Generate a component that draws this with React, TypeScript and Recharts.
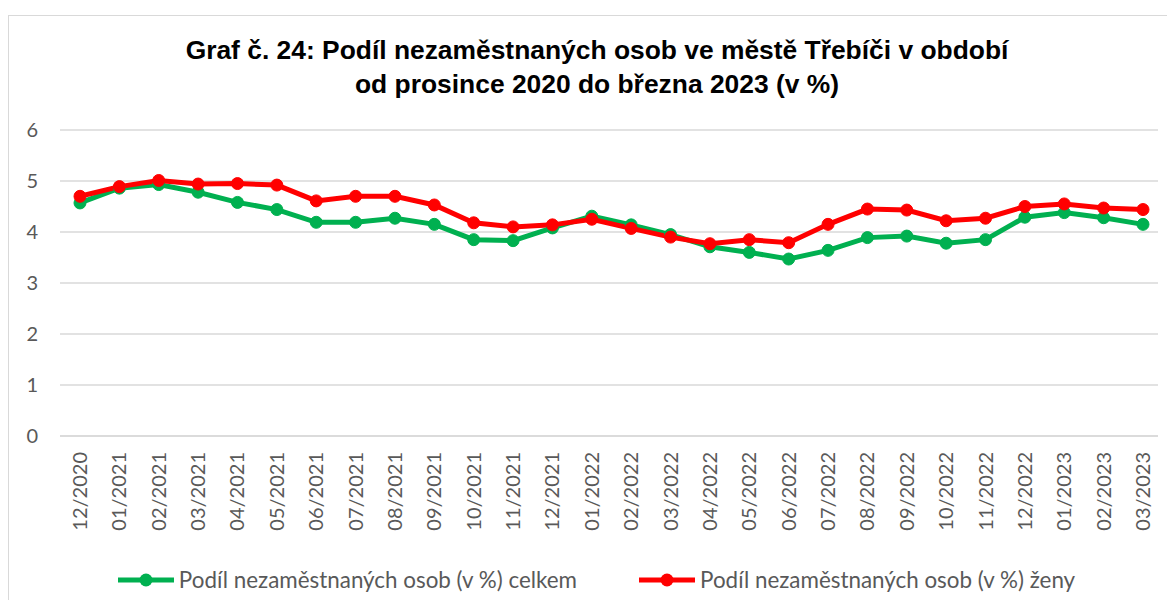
import React from 'react';
import { LineChart, Line, XAxis, YAxis, CartesianGrid, Legend } from 'recharts';

const months = [
  '12/2020', '01/2021', '02/2021', '03/2021', '04/2021', '05/2021', '06/2021', '07/2021',
  '08/2021', '09/2021', '10/2021', '11/2021', '12/2021', '01/2022', '02/2022', '03/2022',
  '04/2022', '05/2022', '06/2022', '07/2022', '08/2022', '09/2022', '10/2022', '11/2022',
  '12/2022', '01/2023', '02/2023', '03/2023',
];
const celkem = [
  4.57, 4.86, 4.93, 4.78, 4.58, 4.44, 4.19, 4.19, 4.27, 4.15, 3.85, 3.83, 4.08, 4.31,
  4.14, 3.95, 3.71, 3.60, 3.47, 3.64, 3.89, 3.92, 3.78, 3.85, 4.29, 4.38, 4.28, 4.15,
];
const zeny = [
  4.70, 4.89, 5.01, 4.94, 4.95, 4.92, 4.61, 4.70, 4.70, 4.53, 4.18, 4.10, 4.14, 4.25,
  4.07, 3.90, 3.77, 3.85, 3.79, 4.15, 4.45, 4.43, 4.22, 4.27, 4.50, 4.55, 4.47, 4.44,
];
const yTicks = [0, 1, 2, 3, 4, 5, 6];
const seriesNames = {
  celkem: 'Podíl nezaměstnaných osob (v %) celkem',
  zeny: 'Podíl nezaměstnaných osob (v %) ženy',
};
const titleLines = [
  'Graf č. 24: Podíl nezaměstnaných osob ve městě Třebíči v období',
  'od prosince 2020 do března 2023 (v %)',
];

const data = months.map((m, i) => ({ month: m, celkem: celkem[i], zeny: zeny[i] }));

const GREEN = '#00B050';
const RED = '#FF0000';
const GRID = '#d9d9d9';
const TEXT = '#595959';
const FONT = 'Lato, "Open Sans", sans-serif';

const XTick = (props: any) => {
  const { x, y, payload } = props;
  return (
    <text
      x={x}
      y={y}
      transform={`rotate(-90, ${x}, ${y})`}
      textAnchor="end"
      dy="0.35em"
      fill={TEXT}
      fontSize={20}
      fontFamily={FONT}
    >
      {payload.value}
    </text>
  );
};

const LegendContent = () => {
  const items = [
    { name: seriesNames.celkem, color: GREEN },
    { name: seriesNames.zeny, color: RED },
  ];
  return (
    <div
      style={{
        display: 'flex',
        justifyContent: 'center',
        gap: 62,
        paddingLeft: 26,
        marginTop: -3,
        fontFamily: FONT,
        fontSize: 22.4,
        color: TEXT,
      }}
    >
      {items.map((it) => (
        <div key={it.name} style={{ display: 'flex', alignItems: 'center' }}>
          <svg width={56} height={16} style={{ marginRight: 5 }}>
            <line x1={0} y1={8} x2={56} y2={8} stroke={it.color} strokeWidth={5} />
            <circle cx={28} cy={8} r={6.5} fill={it.color} />
          </svg>
          <span>{it.name}</span>
        </div>
      ))}
    </div>
  );
};

export default function App() {
  return (
    <div
      style={{
        position: 'relative',
        marginTop: 7,
        width: 1159,
        height: 585,
        borderTop: `1px solid ${GRID}`,
        borderLeft: `1px solid ${GRID}`,
        background: '#fff',
        boxSizing: 'border-box',
      }}
    >
      <div
        style={{
          position: 'absolute',
          top: 17,
          left: 0,
          width: 1176,
          textAlign: 'center',
          fontFamily: '"Liberation Sans", Arial, sans-serif',
          fontWeight: 'bold',
          fontSize: 26.4,
          lineHeight: '34px',
          color: '#000',
        }}
      >
        {titleLines.map((l) => (
          <div key={l}>{l}</div>
        ))}
      </div>
      <LineChart
        width={1158}
        height={584}
        data={data}
        margin={{ top: 114, right: 9, left: 0, bottom: 1 }}
      >
        <CartesianGrid vertical={false} stroke={GRID} strokeWidth={1.5} />
        <XAxis
          dataKey="month"
          interval={0}
          tickLine={false}
          axisLine={{ stroke: GRID, strokeWidth: 1.5 }}
          tick={<XTick />}
          tickSize={0}
          tickMargin={16}
          height={133}
          padding={{ left: 20, right: 15 }}
        />
        <YAxis
          domain={[0, 6]}
          ticks={yTicks}
          width={51}
          axisLine={false}
          tickLine={false}
          tickSize={0}
          tickMargin={22}
          tick={{ fill: TEXT, fontSize: 20, fontFamily: FONT }}
        />
        <Legend verticalAlign="bottom" height={30} content={<LegendContent />} />
        <Line
          type="linear"
          dataKey="celkem"
          name={seriesNames.celkem}
          stroke={GREEN}
          strokeWidth={5}
          dot={{ r: 6, fill: GREEN, stroke: GREEN, strokeWidth: 1 }}
          isAnimationActive={false}
        />
        <Line
          type="linear"
          dataKey="zeny"
          name={seriesNames.zeny}
          stroke={RED}
          strokeWidth={5}
          dot={{ r: 6, fill: RED, stroke: RED, strokeWidth: 1 }}
          isAnimationActive={false}
        />
      </LineChart>
    </div>
  );
}
